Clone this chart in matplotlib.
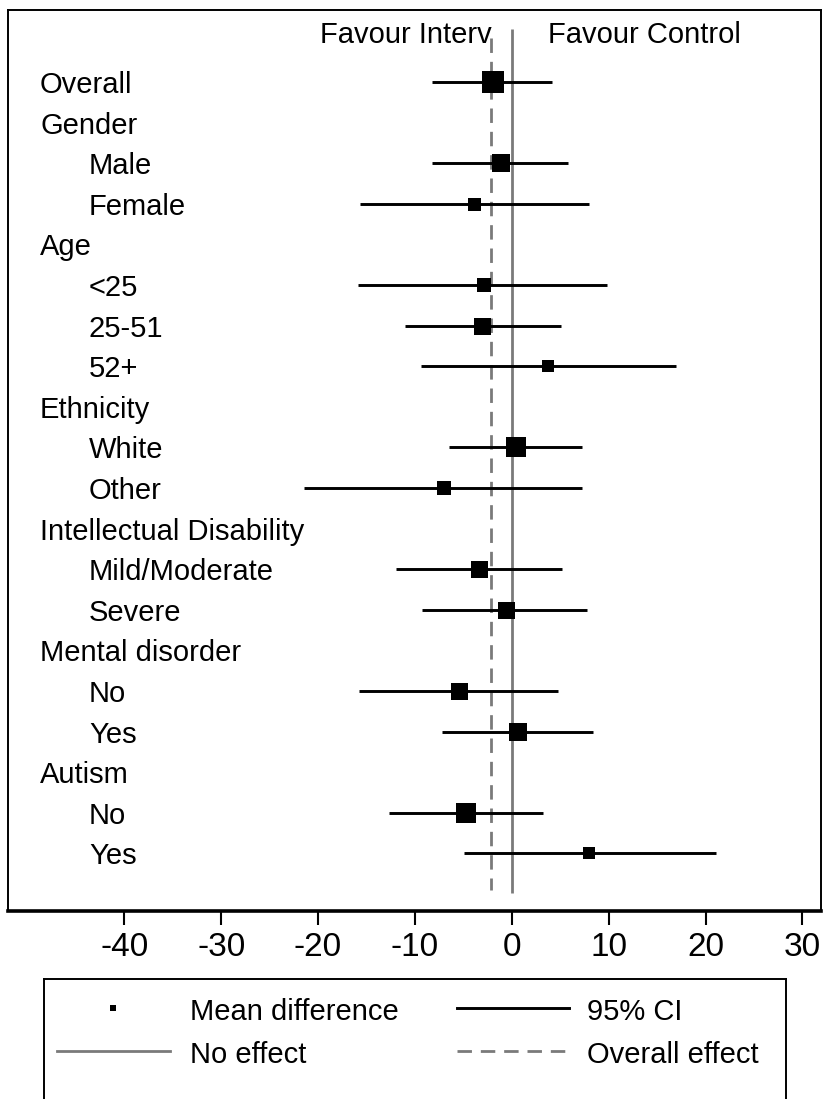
import matplotlib
matplotlib.use("Agg")
import matplotlib.pyplot as plt
import numpy as np

plt.rcParams['font.family'] = ['Liberation Sans', 'DejaVu Sans']

nan = np.nan

# subgroup rows, top to bottom (headings have no estimate)
labels = ["Overall", "Gender", "Male", "Female", "Age", "<25", "25-51", "52+",
          "Ethnicity", "White", "Other", "Intellectual Disability", "Mild/Moderate",
          "Severe", "Mental disorder", "No", "Yes", "Autism", "No", "Yes"]
indent = [0, 0, 1, 1, 0, 1, 1, 1, 0, 1, 1, 0, 1, 1, 0, 1, 1, 0, 1, 1]
mean_diff = [-1.96, nan, -1.1, -3.9, nan, -2.9, -3.1, 3.7, nan, 0.4, -7.05, nan,
             -3.4, -0.65, nan, -5.45, 0.63, nan, -4.7, 7.95]
ci_low = [-8.24, nan, -8.24, -15.7, nan, -15.9, -11.0, -9.4, nan, -6.5, -21.4, nan,
          -12.0, -9.3, nan, -15.8, -7.25, nan, -12.7, -4.95]
ci_high = [4.15, nan, 5.8, 7.97, nan, 9.82, 5.05, 16.95, nan, 7.2, 7.2, nan,
           5.15, 7.8, nan, 4.75, 8.4, nan, 3.2, 21.1]
# relative weight of each estimate (box side, px)
weight = [22, nan, 18, 13, nan, 14, 17, 12, nan, 20, 14, nan, 17, 17, nan, 17, 18, nan, 20, 12]
overall_effect = -2.1
xticks = [-40, -30, -20, -10, 0, 10, 20, 30]

W, H = 823, 1099
fig = plt.figure(figsize=(W / 100, H / 100), dpi=100)

left, right, top, bottom = 8, 820.7, 10, 911
ax = fig.add_axes([left / W, 1 - bottom / H, (right - left) / W, (bottom - top) / H])

px_per_unit = 9.687
zero_px = 511.8
ax.set_xlim((left - zero_px) / px_per_unit, (right - zero_px) / px_per_unit)
row0, row_h = 82, 40.6
ax.set_ylim((bottom - row0) / row_h, (top - row0) / row_h)

gray = '#7a7a7a'
ax.vlines(0, -1.305, 19.98, color=gray, lw=2.0, zorder=1)
ax.vlines(overall_effect, -1.08, 19.9, color=gray, lw=2.0, linestyles=(0, (5.2, 3.2)), zorder=1)

for i, lab in enumerate(labels):
    x_lab = -48.7 if indent[i] == 0 else -43.65
    ax.text(x_lab, i + 0.27, lab, fontsize=21, ha='left', va='baseline')
    if not np.isnan(mean_diff[i]):
        ax.hlines(i, ci_low[i], ci_high[i], color='black', lw=2.1, zorder=2)
        ax.plot(mean_diff[i], i, 's', color='black', ms=weight[i] * 0.72, mew=0, zorder=3)

ax.text(-19.8, -0.968, "Favour Interv", fontsize=21, ha='left', va='baseline')
ax.text(3.69, -0.968, "Favour Control", fontsize=21, ha='left', va='baseline')

ax.set_xticks(xticks)
ax.set_xticklabels([str(t) for t in xticks], fontsize=24)
ax.set_yticks([])
ax.tick_params(axis='x', direction='out', length=10, width=1.5, pad=5)
for s in ['left', 'top', 'right']:
    ax.spines[s].set_linewidth(1.4)
ax.spines['bottom'].set_linewidth(2.6)

# legend box, running off the bottom of the figure
l_left, l_right, l_top, l_bot = 43.6, 786, 979, 1130
lax = fig.add_axes([l_left / W, 1 - l_bot / H, (l_right - l_left) / W, (l_bot - l_top) / H])
lax.set_xlim(l_left, l_right)
lax.set_ylim(l_bot, l_top)
lax.set_xticks([])
lax.set_yticks([])
for s in lax.spines.values():
    s.set_linewidth(1.4)

lax.plot([113], [1008], 's', color='black', ms=4.5, mew=0)
lax.text(190, 1020, "Mean difference", fontsize=21, va='baseline')
lax.plot([457, 568.5], [1008, 1008], color='black', lw=2.1)
lax.text(587, 1020, "95% CI", fontsize=21, va='baseline')
lax.plot([57, 169.5], [1051, 1051], color=gray, lw=2.0)
lax.text(190, 1063, "No effect", fontsize=21, va='baseline')
lax.plot([457, 568.5], [1051, 1051], color=gray, lw=2.0, linestyle=(0, (5.2, 3.2)))
lax.text(587, 1063, "Overall effect", fontsize=21, va='baseline')

fig.savefig("out.png", dpi=100)
